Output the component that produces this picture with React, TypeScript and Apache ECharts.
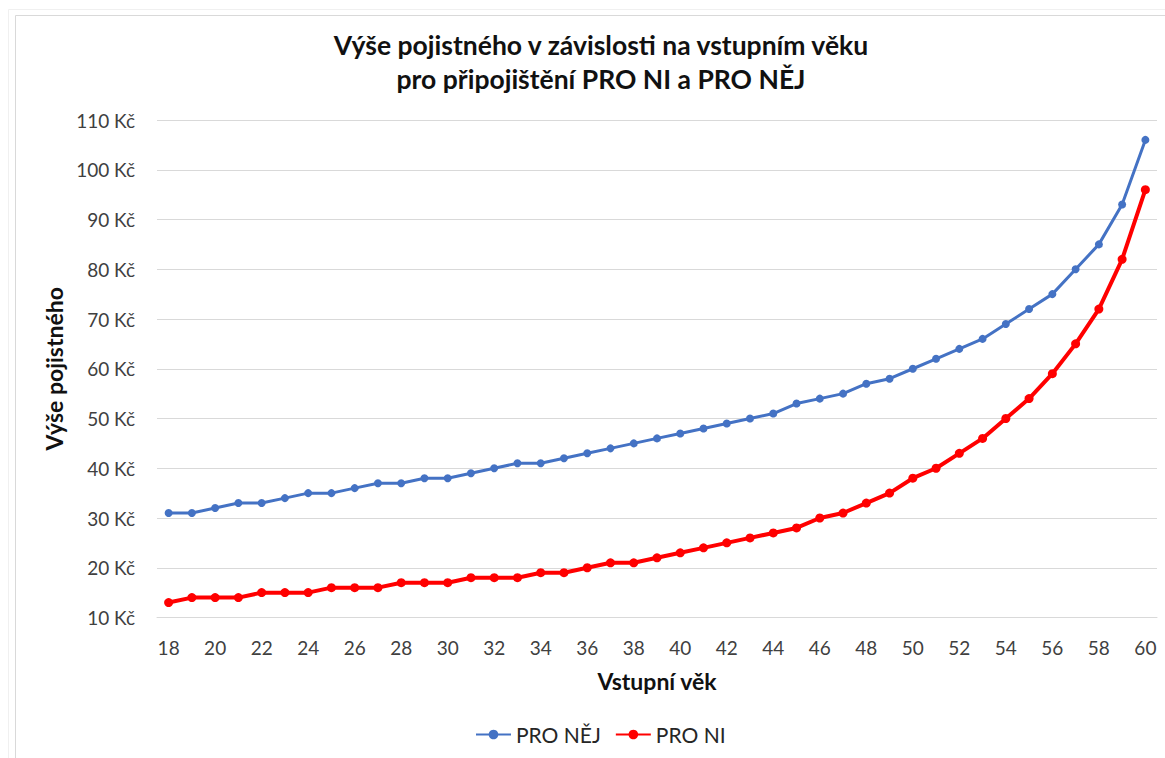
import React, { useEffect, useRef } from "react";
import * as echarts from "echarts";

const titleLines = ["Výše pojistného v závislosti na vstupním věku", "pro připojištění PRO NI a PRO NĚJ"];
const xAxisName = "Vstupní věk";
const yAxisName = "Výše pojistného";

const ages = [
  "18", "19", "20", "21", "22", "23", "24", "25", "26", "27", "28", "29", "30", "31", "32",
  "33", "34", "35", "36", "37", "38", "39", "40", "41", "42", "43", "44", "45", "46", "47",
  "48", "49", "50", "51", "52", "53", "54", "55", "56", "57", "58", "59", "60",
];

const proNej = [
  31, 31, 32, 33, 33, 34, 35, 35, 36, 37, 37, 38, 38, 39, 40,
  41, 41, 42, 43, 44, 45, 46, 47, 48, 49, 50, 51, 53, 54, 55,
  57, 58, 60, 62, 64, 66, 69, 72, 75, 80, 85, 93, 106,
];

const proNi = [
  13, 14, 14, 14, 15, 15, 15, 16, 16, 16, 17, 17, 17, 18, 18,
  18, 19, 19, 20, 21, 21, 22, 23, 24, 25, 26, 27, 28, 30, 31,
  33, 35, 38, 40, 43, 46, 50, 54, 59, 65, 72, 82, 96,
];

const FONT = "Lato, 'Open Sans', sans-serif";

export default function App() {
  const ref = useRef<HTMLDivElement>(null);

  useEffect(() => {
    document.body.style.margin = "0";
    if (!ref.current) return;
    const chart = echarts.init(ref.current, undefined, { renderer: "svg" });
    chart.setOption({
      animation: false,
      backgroundColor: "#ffffff",
      textStyle: { fontFamily: FONT },
      title: {
        text: titleLines.join("\n"),
        left: 596,
        top: 23,
        textAlign: "center",
        textStyle: {
          fontFamily: FONT,
          fontSize: 26.5,
          fontWeight: "bold",
          color: "#111111",
          lineHeight: 34,
        },
      },
      graphic: [
        {
          type: "rect",
          shape: { x: 8.5, y: 9.5, width: 2000, height: 2000 },
          style: { fill: "none", stroke: "#F0F0F0", lineWidth: 1 },
          silent: true,
          z: -10,
        },
        {
          type: "rect",
          shape: { x: 15.5, y: 15.5, width: 2000, height: 2000 },
          style: { fill: "none", stroke: "#D9D9D9", lineWidth: 1 },
          silent: true,
          z: -10,
        },
      ],
      legend: {
        data: ["PRO NĚJ", "PRO NI"],
        left: 470,
        top: 719,
        itemWidth: 35,
        itemHeight: 12,
        itemGap: 14,
        textStyle: { fontFamily: FONT, fontSize: 21, color: "#262626" },
      },
      grid: { left: 157, right: 8, top: 120, bottom: 140.5 },
      xAxis: {
        type: "category",
        data: ages,
        boundaryGap: true,
        name: xAxisName,
        nameLocation: "middle",
        nameGap: 51.5,
        nameTextStyle: { fontFamily: FONT, fontSize: 23, fontWeight: "bold", color: "#111111" },
        axisLine: { show: true, lineStyle: { color: "#D9D9D9", width: 1 } },
        axisTick: { show: false },
        axisLabel: {
          interval: 1,
          margin: 20,
          fontFamily: FONT,
          fontSize: 19,
          color: "#404040",
        },
      },
      yAxis: {
        type: "value",
        min: 10,
        max: 110,
        interval: 10,
        name: yAxisName,
        nameLocation: "middle",
        nameGap: 91,
        nameTextStyle: { fontFamily: FONT, fontSize: 23, fontWeight: "bold", color: "#111111" },
        axisLine: { show: false },
        axisTick: { show: false },
        splitLine: { lineStyle: { color: "#D9D9D9", width: 1 } },
        axisLabel: {
          margin: 22,
          fontFamily: FONT,
          fontSize: 19,
          color: "#404040",
          formatter: "{value} Kč",
        },
      },
      series: [
        {
          name: "PRO NĚJ",
          type: "line",
          data: proNej,
          symbol: "circle",
          symbolSize: 8,
          color: "#4472C4",
          lineStyle: { color: "#4472C4", width: 3 },
          itemStyle: { color: "#4472C4" },
          z: 3,
        },
        {
          name: "PRO NI",
          type: "line",
          data: proNi,
          symbol: "circle",
          symbolSize: 9,
          color: "#FF0000",
          lineStyle: { color: "#FF0000", width: 4 },
          itemStyle: { color: "#FF0000" },
          z: 4,
        },
      ],
    });
    return () => {
      chart.dispose();
    };
  }, []);

  return <div ref={ref} style={{ width: 1165, height: 758 }} />;
}
